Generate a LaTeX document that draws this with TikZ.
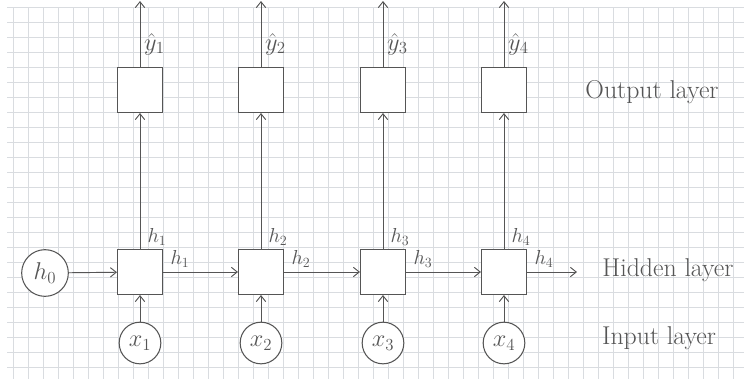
\documentclass[tikz,border=0pt]{standalone}
\usetikzlibrary{positioning, arrows.meta}
\definecolor{Pencil}{HTML}{555555}
\definecolor{Grid}{HTML}{D9DCE0}
\tikzset{
    cellbox/.style={rectangle, draw=Pencil, fill=white, line width=0.9pt, minimum size=13.5mm, inner sep=0pt},
    statecirc/.style={circle, draw=Pencil, fill=white, line width=0.9pt, minimum size=12.5mm, inner sep=0pt, text=Pencil, font=\huge},
    arrow/.style={-{Straight Barb[length=5pt, width=8pt]}, line width=0.8pt, color=Pencil},
    lab/.style={text=Pencil, font=\LARGE, inner sep=0pt},
    layer/.style={text=Pencil, font=\fontsize{22}{26}\selectfont},
}

\begin{document}
\begin{tikzpicture}[x=0.3mm, y=-0.3mm]
    \useasboundingbox (0,0) rectangle (744,379);
    \fill[white] (0,0) rectangle (744,379);
    % squared paper
    \foreach \gx in {13,28,...,740} \draw[Grid, line width=0.5pt] (\gx,7) -- (\gx,379);
    \foreach \gy in {7,22,...,379} \draw[Grid, line width=0.5pt] (7,\gy) -- (744,\gy);

    % initial state
    \node[statecirc, minimum width=12.5mm, minimum height=14mm] (h0) at (45,273) {$h_0$};

    % one column per time step
    \foreach \i/\x in {1/140, 2/261, 3/383, 4/504} {
        \node[cellbox] (out\i) at (\x,90) {};
        \node[cellbox] (hid\i) at (\x,272) {};
        \node[statecirc] (in\i) at (\x,343) {$x_\i$};
        \coordinate (top\i) at (\x,1);

        \draw[arrow] (in\i) -- (hid\i);
        \draw[arrow] (hid\i) -- (out\i);
        \draw[arrow] (out\i) -- (top\i);

        \node[lab, font=\huge, anchor=west] (yhat\i) at (\x+4,44) {$\hat{y}_\i$};
        \node[lab] (hup\i) at (\x+17,237) {$h_\i$};
        \node[lab] (hright\i) at (\x+40,259) {$h_\i$};
    }

    % recurrence
    \coordinate (hout) at (577,272);
    \draw[arrow] (h0) -- (hid1);
    \foreach \i/\j in {1/2, 2/3, 3/4} \draw[arrow] (hid\i) -- (hid\j);
    \draw[arrow] (hid4) -- (hout);

    % layer names
    \node[layer] (outlayer) at (652,92) {Output layer};
    \node[layer] (hidlayer) at (668,270) {Hidden layer};
    \node[layer] (inlayer) at (659,338) {Input layer};
\end{tikzpicture}
\end{document}
